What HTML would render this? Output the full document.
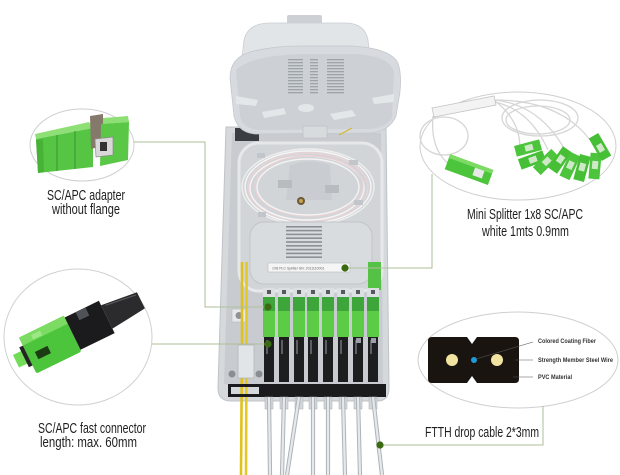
<!DOCTYPE html>
<html>
<head>
<meta charset="utf-8">
<style>
html,body{margin:0;padding:0;background:#fff;}
svg{display:block;}
.t{font-family:"Liberation Sans Narrow","Liberation Sans",sans-serif;font-size:14.5px;fill:#1e1e1e;}
.s{font-family:"Liberation Sans",sans-serif;font-size:6px;font-weight:bold;fill:#333;}
</style>
</head>
<body>
<svg width="620" height="475" viewBox="0 0 620 475" xmlns="http://www.w3.org/2000/svg">
<rect width="620" height="475" fill="#fff"/>

<!-- ============ BODY ============ -->
<path d="M226,127 L386,127 L389,388 Q389,401 377,401 L231,401 Q218,401 218,388 Z" fill="#d6d9dc" stroke="#bfc3c7" stroke-width="1"/>
<path d="M232,133 L381,133 L383,384 L224,384 Z" fill="#c8ccd0"/>
<rect x="235" y="128" width="24" height="13" fill="#3a3d41"/>

<!-- tray -->
<rect x="239" y="143" width="143" height="148" rx="20" fill="#d1d5d8" stroke="#e6e8ea" stroke-width="3"/>
<g fill="none" stroke-width="1.4">
<ellipse cx="308" cy="187" rx="63" ry="36" stroke="#f6f6f6"/>
<ellipse cx="308" cy="187" rx="60" ry="34" stroke="#ead3d6"/>
<ellipse cx="307" cy="188" rx="57" ry="32" stroke="#f5f5f5"/>
<ellipse cx="309" cy="186" rx="54" ry="30" stroke="#e9d0d3"/>
<ellipse cx="308" cy="187" rx="51" ry="28" stroke="#f3f3f3"/>
<ellipse cx="308" cy="187" rx="66" ry="38" stroke="#eeeeee"/>
</g>
<path d="M290,165 Q310,158 330,165 L332,200 L286,200 Z" fill="#c9cdd1"/>
<rect x="278" y="180" width="14" height="8" fill="#b8bcc0"/>
<rect x="325" y="185" width="14" height="8" fill="#b8bcc0"/>
<circle cx="301" cy="201" r="4" fill="#6b5a3a"/>
<circle cx="301" cy="201" r="2" fill="#c9a24a"/>
<g fill="#c2c6ca">
<rect x="257" y="153" width="8" height="5"/>
<rect x="349" y="160" width="9" height="5"/>
<rect x="354" y="200" width="9" height="5"/>
<rect x="258" y="212" width="8" height="5"/>
</g>
<rect x="250" y="222" width="122" height="62" rx="14" fill="#d9dcdf" stroke="#c1c5c9" stroke-width="1"/>
<g fill="#8a8f95">
<rect x="286" y="226" width="36" height="1.6"/>
<rect x="286" y="229.8" width="36" height="1.6"/>
<rect x="286" y="233.6" width="36" height="1.6"/>
<rect x="286" y="237.4" width="36" height="1.6"/>
<rect x="286" y="241.2" width="36" height="1.6"/>
<rect x="286" y="245" width="36" height="1.6"/>
<rect x="286" y="248.8" width="36" height="1.6"/>
<rect x="286" y="252.6" width="36" height="1.6"/>
<rect x="286" y="256.4" width="36" height="1.6"/>
</g>
<rect x="268" y="263" width="82" height="9" fill="#f5f5f5" stroke="#b5b9bd" stroke-width="0.6"/>
<text x="272" y="269.5" font-family="Liberation Sans,sans-serif" font-size="3.5" fill="#666">1X8 PLC Splitter SN: 2011110001</text>
<rect x="368" y="262" width="13" height="28" fill="#55c245"/>

<!-- left lower inner parts -->
<rect x="232" y="309" width="14" height="13" fill="#e6e8ea" stroke="#b5b9bd" stroke-width="0.6"/>
<circle cx="239" cy="315.5" r="3.5" fill="#8f9398"/>
<!-- yellow cables -->
<path d="M242,262 L242,340 L241,475" stroke="#e0c21c" stroke-width="2.6" fill="none"/>
<path d="M246.5,262 L246.5,340 L246,475" stroke="#e6c824" stroke-width="2.6" fill="none"/>
<rect x="238" y="345" width="16" height="33" fill="#e2e5e8" stroke="#aeb2b6" stroke-width="0.7"/>
<circle cx="232" cy="374" r="3.5" fill="#8a8e93"/>
<circle cx="259" cy="374" r="3.5" fill="#8a8e93"/>

<!-- adapters -->
<g>
<rect x="263" y="288" width="12" height="9" fill="#dde0e3"/><rect x="267" y="290" width="4" height="4" fill="#55595e"/>
<rect x="278" y="288" width="12" height="9" fill="#dde0e3"/><rect x="282" y="290" width="4" height="4" fill="#55595e"/>
<rect x="293" y="288" width="12" height="9" fill="#dde0e3"/><rect x="297" y="290" width="4" height="4" fill="#55595e"/>
<rect x="307" y="288" width="12" height="9" fill="#dde0e3"/><rect x="311" y="290" width="4" height="4" fill="#55595e"/>
<rect x="322" y="288" width="12" height="9" fill="#dde0e3"/><rect x="326" y="290" width="4" height="4" fill="#55595e"/>
<rect x="337" y="288" width="12" height="9" fill="#dde0e3"/><rect x="341" y="290" width="4" height="4" fill="#55595e"/>
<rect x="352" y="288" width="12" height="9" fill="#dde0e3"/><rect x="356" y="290" width="4" height="4" fill="#55595e"/>
<rect x="367" y="288" width="12" height="9" fill="#dde0e3"/><rect x="371" y="290" width="4" height="4" fill="#55595e"/>
</g>
<g fill="#3ea53a">
<rect x="263" y="297" width="12" height="14"/><rect x="278" y="297" width="12" height="14"/>
<rect x="293" y="297" width="12" height="14"/><rect x="307" y="297" width="12" height="14"/>
<rect x="322" y="297" width="12" height="14"/><rect x="337" y="297" width="12" height="14"/>
<rect x="352" y="297" width="12" height="14"/><rect x="367" y="297" width="12" height="14"/>
</g>
<g fill="#5ccb46">
<rect x="263" y="311" width="12" height="26"/><rect x="278" y="311" width="12" height="26"/>
<rect x="293" y="311" width="12" height="26"/><rect x="307" y="311" width="12" height="26"/>
<rect x="322" y="311" width="12" height="26"/><rect x="337" y="311" width="12" height="26"/>
<rect x="352" y="311" width="12" height="26"/><rect x="367" y="311" width="12" height="26"/>
</g>
<!-- black connectors -->
<g fill="#1d1e20">
<rect x="264" y="337" width="10" height="45"/><rect x="279" y="337" width="10" height="45"/>
<rect x="294" y="337" width="10" height="45"/><rect x="308" y="337" width="10" height="45"/>
<rect x="323" y="337" width="10" height="45"/><rect x="338" y="337" width="10" height="45"/>
<rect x="353" y="337" width="10" height="45"/><rect x="368" y="337" width="10" height="45"/>
</g>
<g fill="#5b5f64">
<rect x="266" y="340" width="2" height="14"/><rect x="281" y="340" width="2" height="14"/>
<rect x="296" y="340" width="2" height="14"/><rect x="310" y="340" width="2" height="14"/>
<rect x="325" y="340" width="2" height="14"/><rect x="340" y="340" width="2" height="14"/>
<rect x="355" y="340" width="2" height="14"/><rect x="370" y="340" width="2" height="14"/>
</g>
<g fill="#9aa0a6">
<rect x="356" y="338" width="5" height="5"/><rect x="371" y="338" width="5" height="5"/>
</g>
<!-- black bar -->
<path d="M228,384 L262,384 L262,397 L228,397 Z M231,387 L231,394 L259,394 L259,387 Z" fill="#1b1b1d" fill-rule="evenodd"/>
<rect x="262" y="384" width="124" height="13" fill="#1b1b1d"/>
<!-- clips below -->
<g fill="#d3d7db" stroke="#a9aeb3" stroke-width="0.5">
<rect x="265" y="397" width="8" height="12"/><rect x="280" y="397" width="8" height="12"/>
<rect x="295" y="397" width="8" height="12"/><rect x="309" y="397" width="8" height="12"/>
<rect x="324" y="397" width="8" height="12"/><rect x="339" y="397" width="8" height="12"/>
<rect x="354" y="397" width="8" height="12"/><rect x="369" y="397" width="8" height="12"/>
</g>
<!-- white cables -->
<g stroke="#aeb3b9" stroke-width="4.2" fill="none" stroke-linecap="butt">
<path d="M269,397 L270,475"/><path d="M284,397 L282,475"/><path d="M299,397 L287,475"/>
<path d="M313,397 L313,475"/><path d="M328,397 L328,475"/><path d="M343,397 L345,475"/>
<path d="M358,397 L360,475"/><path d="M373,397 L382,475"/>
</g>
<g stroke="#e6e9ec" stroke-width="2.2" fill="none">
<path d="M269,397 L270,475"/><path d="M284,397 L282,475"/><path d="M299,397 L287,475"/>
<path d="M313,397 L313,475"/><path d="M328,397 L328,475"/><path d="M343,397 L345,475"/>
<path d="M358,397 L360,475"/><path d="M373,397 L382,475"/>
</g>

<!-- ============ LID ============ -->
<rect x="287" y="15" width="35" height="10" rx="2" fill="#cdd1d5"/>
<path d="M242,58 L244,40 Q248,23 270,23 L345,23 Q365,23 368,40 L370,58 Z" fill="#e2e5e8" stroke="#c9cdd1" stroke-width="0.8"/>
<path d="M230,78 Q230,58 250,52 Q272,46 300,46 L352,46 Q386,48 396,60 Q402,68 400,92 L396,116 Q390,131 370,133 L256,134 Q238,133 234,116 Z" fill="#d7dade" stroke="#c4c8cc" stroke-width="0.8"/>
<path d="M236,70 Q250,56 300,54 L355,54 Q390,56 394,72 L392,118 Q386,128 368,129 L258,130 Q242,128 240,116 Z" fill="#cdd1d5"/>
<g fill="#9ea3a8">
<rect x="288" y="59" width="15" height="1.3"/><rect x="288" y="62" width="15" height="1.3"/><rect x="288" y="65" width="15" height="1.3"/>
<rect x="288" y="68" width="15" height="1.3"/><rect x="288" y="71" width="15" height="1.3"/><rect x="288" y="74" width="15" height="1.3"/>
<rect x="288" y="77" width="15" height="1.3"/><rect x="288" y="80" width="15" height="1.3"/><rect x="288" y="83" width="15" height="1.3"/>
<rect x="288" y="86" width="15" height="1.3"/><rect x="288" y="89" width="15" height="1.3"/><rect x="288" y="92" width="15" height="1.3"/>
<rect x="310" y="59" width="8" height="1.3"/><rect x="310" y="62" width="8" height="1.3"/><rect x="310" y="65" width="8" height="1.3"/>
<rect x="310" y="68" width="8" height="1.3"/><rect x="310" y="71" width="8" height="1.3"/><rect x="310" y="74" width="8" height="1.3"/>
<rect x="310" y="77" width="8" height="1.3"/><rect x="310" y="80" width="8" height="1.3"/><rect x="310" y="83" width="8" height="1.3"/>
<rect x="310" y="86" width="8" height="1.3"/><rect x="310" y="89" width="8" height="1.3"/><rect x="310" y="92" width="8" height="1.3"/>
<rect x="327" y="59" width="17" height="1.3"/><rect x="327" y="62" width="17" height="1.3"/><rect x="327" y="65" width="17" height="1.3"/>
<rect x="327" y="68" width="17" height="1.3"/><rect x="327" y="71" width="17" height="1.3"/><rect x="327" y="74" width="17" height="1.3"/>
<rect x="327" y="77" width="17" height="1.3"/><rect x="327" y="80" width="17" height="1.3"/><rect x="327" y="83" width="17" height="1.3"/>
<rect x="327" y="86" width="17" height="1.3"/><rect x="327" y="89" width="17" height="1.3"/><rect x="327" y="92" width="17" height="1.3"/>
</g>
<g fill="#e4e7ea">
<path d="M236,96 L258,100 L256,106 L236,104 Z"/>
<path d="M372,98 L394,94 L394,102 L374,104 Z"/>
<ellipse cx="306" cy="108" rx="8" ry="4"/>
<path d="M262,112 L284,108 L286,114 L264,118 Z"/>
<path d="M330,114 L352,110 L356,116 L334,120 Z"/>
</g>
<rect x="303" y="126" width="24" height="12" fill="#d8dbde" stroke="#b9bdc1" stroke-width="0.6"/>
<path d="M339,135 L352,128" stroke="#d9b82a" stroke-width="1.2"/>

<!-- ============ LEFT TOP: ADAPTER ============ -->
<ellipse cx="82" cy="145" rx="52" ry="36" fill="#fff" stroke="#cfcfcf" stroke-width="1"/>
<path d="M35,134 L89,122 L93,128 L36,139 Z" fill="#8ee076"/>
<path d="M36,139 L93,128 L93,167 L38,173 Z" fill="#57c544"/>
<path d="M57,135 L57,171 M75,131 L75,169" stroke="#3f9c33" stroke-width="1.2"/>
<path d="M36,140 L43,139 L44,172 L38,173 Z" fill="#48b237"/>
<path d="M90,116 L103,114 L103,146 L91,149 Z" fill="#85796b"/>
<path d="M103,118 L128,116 L129,122 L103,124 Z" fill="#8ee076"/>
<path d="M101,124 L129,122 L128,160 L100,166 Z" fill="#5ac846"/>
<path d="M95,139 L113,137 L113,155 L96,157 Z" fill="#d8d8d8" stroke="#8a8a8a" stroke-width="0.7"/>
<rect x="100" y="142" width="7" height="9" fill="#333"/>

<!-- ============ LEFT BOTTOM: FAST CONNECTOR ============ -->
<ellipse cx="78" cy="337" rx="74" ry="68" fill="#fff" stroke="#d0d0d0" stroke-width="1"/>
<g transform="translate(78,331) rotate(-26)">
<rect x="-69" y="-7" width="11" height="14" fill="#72dc58"/>
<rect x="-60" y="-11" width="5" height="22" fill="#242424"/>
<rect x="-56" y="-20" width="50" height="40" rx="2" fill="#4cc43b"/>
<rect x="-56" y="-20" width="50" height="9" fill="#7bdb62"/>
<rect x="-48" y="0" width="14" height="8" fill="#1c3d14"/>
<rect x="-44" y="-17" width="10" height="5" fill="#9ce886"/>
<rect x="-6" y="-18" width="38" height="36" fill="#1b1b1d"/>
<rect x="6" y="-18" width="11" height="9" fill="#4f5256"/>
<path d="M32,-13 L70,-9 L70,9 L32,13 Z" fill="#2b2b2e"/>
<path d="M36,-11 L68,-7" stroke="#55585c" stroke-width="1.2"/>
</g>

<!-- ============ RIGHT TOP: SPLITTER ============ -->
<ellipse cx="518" cy="146" rx="98" ry="54" fill="#fff" stroke="#cfcfcf" stroke-width="1"/>
<g fill="none" stroke="#d6d6d6" stroke-width="1.3">
<ellipse cx="444" cy="136" rx="24" ry="19"/>
<ellipse cx="540" cy="118" rx="38" ry="18"/>
<ellipse cx="538" cy="120" rx="32" ry="14"/>
<path d="M495,102 Q530,110 548,150"/>
<path d="M495,100 Q540,105 565,150"/>
<path d="M495,100 Q560,100 590,140"/>
<path d="M495,101 Q520,120 520,148"/>
<path d="M433,116 Q430,150 450,165"/>
</g>
<path d="M432,108 L494,96 L496,105 L434,117 Z" fill="#f3f3f3" stroke="#c4c4c4" stroke-width="0.8"/>
<g transform="translate(470,170) rotate(20)">
<rect x="-24" y="-8" width="46" height="16" fill="#4cc43b"/>
<rect x="-24" y="-8" width="46" height="4" fill="#7bdb62"/>
<rect x="4" y="-4" width="10" height="8" fill="#e8e8e8"/>
</g>
<g id="c1" transform="translate(528,148) rotate(-15)"><rect x="-13" y="-5.5" width="26" height="11" fill="#4cc43b"/><rect x="-3" y="-3" width="8" height="6" fill="#cfe9c8"/></g>
<g transform="translate(532,160) rotate(-20)"><rect x="-13" y="-5.5" width="26" height="11" fill="#46bf36"/><rect x="-3" y="-3" width="8" height="6" fill="#cfe9c8"/></g>
<g transform="translate(546,162) rotate(-45)"><rect x="-13" y="-5.5" width="26" height="11" fill="#4cc43b"/><rect x="-3" y="-3" width="8" height="6" fill="#cfe9c8"/></g>
<g transform="translate(560,160) rotate(-55)"><rect x="-13" y="-5.5" width="26" height="11" fill="#46bf36"/><rect x="-3" y="-3" width="8" height="6" fill="#cfe9c8"/></g>
<g transform="translate(570,166) rotate(-65)"><rect x="-13" y="-5.5" width="26" height="11" fill="#4cc43b"/><rect x="-3" y="-3" width="8" height="6" fill="#cfe9c8"/></g>
<g transform="translate(582,168) rotate(-75)"><rect x="-13" y="-5.5" width="26" height="11" fill="#46bf36"/><rect x="-3" y="-3" width="8" height="6" fill="#cfe9c8"/></g>
<g transform="translate(595,166) rotate(-85)"><rect x="-13" y="-5.5" width="26" height="11" fill="#4cc43b"/><rect x="-3" y="-3" width="8" height="6" fill="#cfe9c8"/></g>
<g transform="translate(600,147) rotate(60)"><rect x="-13" y="-5.5" width="26" height="11" fill="#46bf36"/><rect x="-3" y="-3" width="8" height="6" fill="#cfe9c8"/></g>

<!-- ============ RIGHT BOTTOM: CABLE CROSS-SECTION ============ -->
<ellipse cx="518" cy="360" rx="100" ry="48" fill="#fff" stroke="#cfcfcf" stroke-width="1"/>
<path d="M432,337 L467,337 L472,344 L477,337 L515,337 Q519,337 519,341 L519,379 Q519,383 515,383 L477,383 L472,376 L467,383 L432,383 Q428,383 428,379 L428,341 Q428,337 432,337 Z" fill="#1a1410"/>
<circle cx="452" cy="360" r="6" fill="#f2e4a0"/>
<circle cx="497" cy="360" r="6" fill="#f2e4a0"/>
<circle cx="474" cy="360" r="3" fill="#1c9bd8"/>
<g stroke="#555" stroke-width="0.6">
<line x1="476" y1="359" x2="533" y2="342"/>
<line x1="515" y1="360" x2="533" y2="360"/>
<line x1="513" y1="377" x2="533" y2="377"/>
</g>
<text class="s" x="538" y="343" textLength="58" lengthAdjust="spacingAndGlyphs">Colored Coating Fiber</text>
<text class="s" x="538" y="362" textLength="75" lengthAdjust="spacingAndGlyphs">Strength Member Steel Wire</text>
<text class="s" x="538" y="379" textLength="34" lengthAdjust="spacingAndGlyphs">PVC Material</text>

<!-- ============ LEADER LINES ============ -->
<g fill="none" stroke="#aebf9a" stroke-width="1">
<polyline points="134,142 205,142 205,307 268,307"/>
<polyline points="152,344 268,344"/>
<polyline points="345,268 432,268 432,174"/>
<polyline points="380,445 543,445 543,406"/>
</g>
<g fill="#3b6b10">
<circle cx="268" cy="307" r="3.6"/>
<circle cx="268" cy="344" r="3.6"/>
<circle cx="345" cy="268" r="3.6"/>
<circle cx="380" cy="445" r="3.6"/>
</g>

<!-- ============ LABELS ============ -->
<text class="t" x="47" y="200" textLength="78" lengthAdjust="spacingAndGlyphs">SC/APC adapter</text>
<text class="t" x="52" y="214" textLength="68" lengthAdjust="spacingAndGlyphs">without flange</text>
<text class="t" x="38" y="433" textLength="108" lengthAdjust="spacingAndGlyphs">SC/APC fast connector</text>
<text class="t" x="40" y="447" textLength="97" lengthAdjust="spacingAndGlyphs">length: max. 60mm</text>
<text class="t" x="467" y="219" textLength="116" lengthAdjust="spacingAndGlyphs">Mini Splitter 1x8 SC/APC</text>
<text class="t" x="482" y="236" textLength="87" lengthAdjust="spacingAndGlyphs">white 1mts 0.9mm</text>
<text class="t" x="425" y="437" textLength="114" lengthAdjust="spacingAndGlyphs">FTTH drop cable 2*3mm</text>
</svg>
</body>
</html>
